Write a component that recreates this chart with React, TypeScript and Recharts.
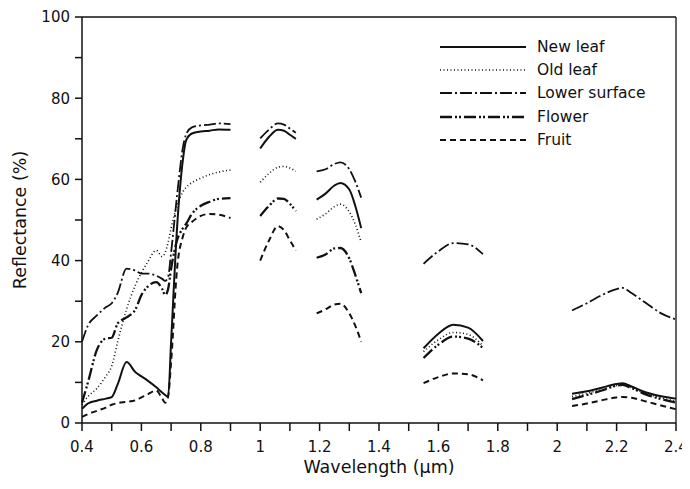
import React from 'react';
import { LineChart, Line, XAxis, YAxis, ReferenceLine, Legend } from 'recharts';

// wavelength grid (µm); null rows break the lines at the water absorption bands
const wavelengths = [
  0.4, 0.42, 0.45, 0.48, 0.5, 0.52, 0.55, 0.58, 0.6, 0.62, 0.65, 0.67, 0.68, 0.69, 0.7, 0.72, 0.74, 0.75, 0.77, 0.8, 0.83, 0.86, 0.9,
  0.95,
  1.0, 1.03, 1.06, 1.08, 1.1, 1.12,
  1.15,
  1.19, 1.22, 1.25, 1.27, 1.3, 1.32, 1.34,
  1.45,
  1.55, 1.6, 1.65, 1.7, 1.75,
  1.9,
  2.05, 2.1, 2.15, 2.2, 2.22, 2.25, 2.3, 2.35, 2.4,
];

const newLeaf = [
  3.5, 4.8, 5.5, 6, 6.4, 9.5, 15, 12.5, 11.5, 10.5, 8.8, 7.5, 6.9, 6.5, 20, 48, 65, 69.5, 71.3, 71.8, 72, 72.3, 72.2,
  null,
  67.6, 70.5, 72.2, 72, 71, 70,
  null,
  55, 56.5, 58.5, 59.1, 57.5, 53.5, 48,
  null,
  18.4, 22, 24.2, 23.5, 20.2,
  null,
  7.2, 7.8, 8.7, 9.6, 9.8, 9, 7.5, 6.6, 6,
];

const oldLeaf = [
  4.5, 6.5, 8.5, 11.5, 14, 20, 28, 34, 37, 39.5, 42.5, 41, 42, 44.5, 48, 53.5, 57, 58, 59.2, 60.3, 61.2, 61.8, 62.3,
  null,
  59.3, 61.5, 63, 63.2, 62.8, 62,
  null,
  50.2, 51.5, 53.3, 53.9, 52, 49, 44.5,
  null,
  17.6, 20.5, 22.3, 21.8, 19,
  null,
  6.5, 7.3, 8.2, 9.2, 9.4, 8.7, 7.2, 6.2, 5.4,
];

const lowerSurface = [
  20, 24, 26.5, 28.5, 29.5, 32, 38, 37.5, 36.8, 36.8, 36.3, 35.5, 35, 36, 42, 56, 68, 71, 72.8, 73.3, 73.5, 73.8, 73.6,
  null,
  70.1, 72.3, 73.8, 73.5, 72.5, 71.5,
  null,
  62, 62.5, 63.8, 64.2, 62.5, 59.5, 55.5,
  null,
  39.2, 42.3, 44.3, 44, 41.6,
  null,
  27.7, 29.5, 31.5, 33, 33.3, 32, 29.5, 27, 25.5,
];

const flower = [
  5, 10, 18, 20.8, 21, 24.5, 26, 28, 31.5, 33.5, 34.7, 33, 31.5, 33, 38, 45, 48, 49, 51.5, 53.5, 54.5, 55.2, 55.4,
  null,
  51, 53.5, 55.3, 55.2, 54, 52.2,
  null,
  40.7, 41.5, 43, 43.1, 40.5, 36.5, 32,
  null,
  16, 19.3, 21.3, 20.8, 18.5,
  null,
  5.9, 6.9, 8, 9.2, 9.4, 8.6, 7, 5.9, 5,
];

const fruit = [
  1.5, 2.2, 3, 3.8, 4.5, 4.9, 5.2, 5.6, 6.3, 7, 8, 6, 5, 6.5, 15, 38, 46, 48, 49.5, 51, 51.5, 51.3, 50.5,
  null,
  40, 45, 48.5, 47.5, 45, 42.5,
  null,
  27, 28, 29.2, 29.4, 27, 24, 20,
  null,
  9.8, 11.3, 12.2, 12, 10.5,
  null,
  4.2, 4.8, 5.6, 6.3, 6.4, 6.2, 5.3, 4.3, 3.4,
];

const xTicks = [0.4, 0.5, 0.6, 0.7, 0.8, 0.9, 1.0, 1.1, 1.2, 1.3, 1.4, 1.5, 1.6, 1.7, 1.8, 1.9, 2.0, 2.1, 2.2, 2.3, 2.4];
const xTickLabels = ['0.4', '', '0.6', '', '0.8', '', '1', '', '1.2', '', '1.4', '', '1.6', '', '1.8', '', '2', '', '2.2', '', '2.4'];
const yTicks = [0, 10, 20, 30, 40, 50, 60, 70, 80, 90, 100];
const yTickLabels = ['0', '', '20', '', '40', '', '60', '', '80', '', '100'];

const seriesNames = ['New leaf', 'Old leaf', 'Lower surface', 'Flower', 'Fruit'];
const seriesKeys = ['newLeaf', 'oldLeaf', 'lowerSurface', 'flower', 'fruit'];

const seriesStyle: Record<string, { dash?: string; width: number }> = {
  newLeaf: { width: 2 },
  oldLeaf: { dash: '1 2.5', width: 1.6 },
  lowerSurface: { dash: '12 3 2 3', width: 1.8 },
  flower: { dash: '12 3 2 2 2 3', width: 2.3 },
  fruit: { dash: '6 4', width: 2 },
};

const data = wavelengths.map((w, i) => ({
  w,
  newLeaf: newLeaf[i],
  oldLeaf: oldLeaf[i],
  lowerSurface: lowerSurface[i],
  flower: flower[i],
  fruit: fruit[i],
}));

const FONT = '"DejaVu Sans", sans-serif';
const INK = '#111';

const renderLegend = () => (
  <div style={{ fontFamily: FONT, fontSize: 15.5, color: INK }}>
    {seriesKeys.map((k, i) => (
      <div key={k} style={{ display: 'flex', alignItems: 'center', height: 23.3 }}>
        <svg width={86} height={6} style={{ marginRight: 11 }}>
          <line
            x1={0}
            y1={3}
            x2={86}
            y2={3}
            stroke={INK}
            strokeWidth={seriesStyle[k].width}
            strokeDasharray={seriesStyle[k].dash}
          />
        </svg>
        <span>{seriesNames[i]}</span>
      </div>
    ))}
  </div>
);

const App = () => {
  return (
    <div style={{ width: 682, height: 481 }}>
      <LineChart
        width={682}
        height={481}
        data={data}
        margin={{ top: 9, right: 14, left: 0, bottom: 16 }}
        style={{ overflow: 'visible' }}
      >
        <XAxis
          dataKey="w"
          type="number"
          domain={[0.4, 2.4]}
          ticks={xTicks}
          tickFormatter={(v: number) => xTickLabels[xTicks.findIndex((t) => Math.abs(t - v) < 1e-6)] ?? ''}
          interval={0}
          height={50}
          tickSize={8}
          tickMargin={10}
          stroke={INK}
          strokeWidth={1.5}
          tick={{ fill: INK, fontSize: 15, fontFamily: FONT }}
          label={{ value: 'Wavelength (µm)', position: 'insideBottom', offset: 0, fill: INK, fontSize: 17.5, fontFamily: FONT }}
        />
        <YAxis
          type="number"
          domain={[0, 100]}
          ticks={yTicks}
          tickFormatter={(v: number) => yTickLabels[yTicks.indexOf(v)] ?? ''}
          interval={0}
          width={74}
          tickSize={7}
          tickMargin={5}
          stroke={INK}
          strokeWidth={1.5}
          tick={{ fill: INK, fontSize: 15, fontFamily: FONT }}
          label={{
            value: 'Reflectance (%)',
            angle: -90,
            position: 'insideLeft',
            offset: 12,
            fill: INK,
            fontSize: 17.5,
            fontFamily: FONT,
            style: { textAnchor: 'middle' },
          }}
        />
        <ReferenceLine y={100} stroke={INK} strokeWidth={1.3} />
        <ReferenceLine x={2.4} stroke={INK} strokeWidth={1.3} />
        {seriesKeys.map((k, i) => (
          <Line
            key={k}
            type="monotone"
            dataKey={k}
            name={seriesNames[i]}
            stroke={INK}
            strokeWidth={seriesStyle[k].width}
            strokeDasharray={seriesStyle[k].dash}
            dot={false}
            activeDot={false}
            connectNulls={false}
            isAnimationActive={false}
          />
        ))}
        <Legend
          layout="horizontal"
          verticalAlign="middle"
          align="center"
          content={renderLegend}
          wrapperStyle={{ position: 'absolute', left: 432, top: 27, width: 'auto', height: 'auto' }}
        />
      </LineChart>
    </div>
  );
};

export default App;
